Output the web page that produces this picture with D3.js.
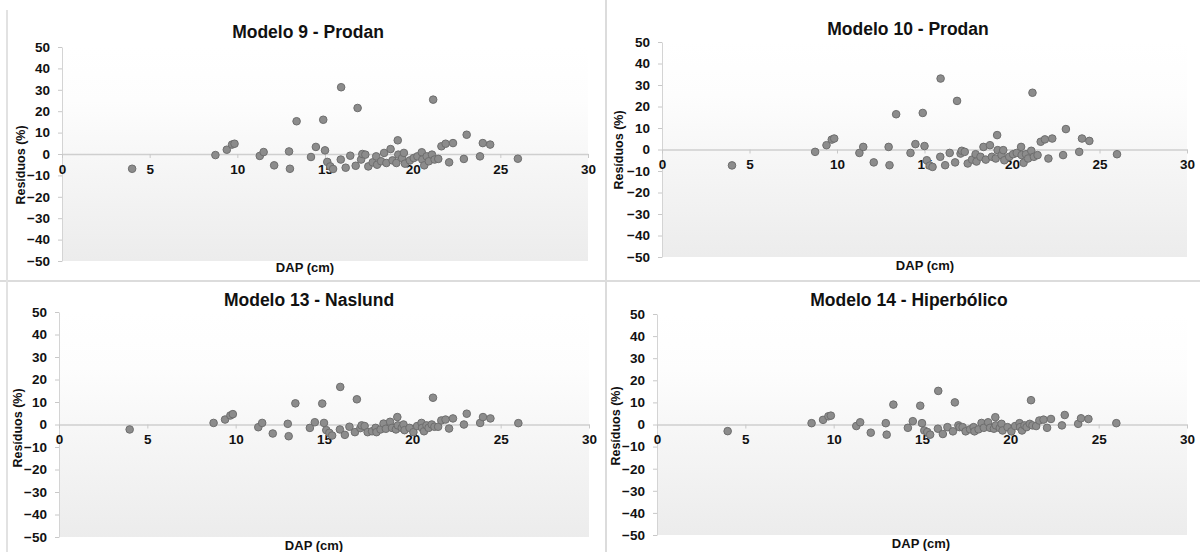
<!DOCTYPE html>
<html>
<head>
<meta charset="utf-8">
<script src="https://cdn.jsdelivr.net/npm/d3@7"></script>
<style>
  html, body { margin: 0; padding: 0; background: #ffffff; }
  svg { display: block; font-family: Arial, "Liberation Sans", sans-serif; }
</style>
</head>
<body>
<svg id="chart" width="1200" height="552"></svg>
<script>
// ---------- DATA ----------
const titles = ["Modelo 9 - Prodan", "Modelo 10 - Prodan", "Modelo 13 - Naslund", "Modelo 14 - Hiperbólico"];
const xTitle = "DAP (cm)";
const yTitle = "Resíduos (%)";
const xTicks = [0, 5, 10, 15, 20, 25, 30];
const yTicks = [50, 40, 30, 20, 10, 0, -10, -20, -30, -40, -50];

const dap = [4.0, 8.75, 9.4, 9.7, 9.84, 11.28, 11.5, 12.1, 12.95, 13.0,
  13.38, 14.2, 14.48, 14.9, 15.0, 15.13, 15.3, 15.46, 15.92, 15.9,
  16.18, 16.44, 16.75, 16.86, 17.06, 17.13, 17.3, 17.47, 17.72, 17.92,
  17.97, 18.2, 18.37, 18.5, 18.74, 18.85, 19.07, 19.15, 19.18, 19.4,
  19.5, 19.56, 19.84, 20.06, 20.27, 20.52, 20.55, 20.66, 20.8, 20.92,
  21.1, 21.17, 21.25, 21.46, 21.64, 21.88, 22.08, 22.3, 22.92, 23.08,
  23.84, 24.0, 24.42, 26.0];

const resModelo9 = [-6.9, -0.5, 2.0, 4.4, 4.8, -0.9, 0.9, -5.3, 1.2, -6.9,
  15.3, -1.4, 3.3, 16.0, 1.7, -3.7, -5.8, -7.0, 31.2, -2.6,
  -6.4, -0.8, -5.5, 21.5, -2.6, 0.0, -0.3, -5.8, -3.9, -1.1,
  -5.0, -3.4, 0.5, -4.2, 2.3, -3.0, -4.2, 6.4, -0.3, -1.9,
  0.5, -4.5, -3.0, -1.9, -1.1, 0.8, -2.6, -5.3, -1.1, -3.4,
  -0.3, 25.4, -2.6, -2.3, 3.6, 4.8, -3.9, 5.1, -2.3, 9.0,
  -1.1, 5.1, 4.4, -2.2];

const resModelo10 = [-7.4, -1.1, 2.0, 4.6, 5.1, -1.6, 1.2, -6.0, 1.2, -7.3,
  16.4, -1.6, 2.5, 17.0, 1.6, -5.0, -7.5, -8.1, 33.0, -3.4,
  -7.3, -1.6, -6.0, 22.6, -1.9, -0.6, -1.1, -6.5, -4.7, -2.2,
  -5.6, -3.4, 1.2, -4.7, 2.0, -3.4, -4.2, 6.7, -0.3, -2.6,
  -0.3, -5.0, -3.4, -2.2, -1.6, 1.2, -2.6, -6.2, -2.2, -4.2,
  -0.6, 26.4, -3.4, -2.6, 3.6, 4.7, -4.2, 5.1, -2.6, 9.5,
  -1.1, 5.1, 4.0, -2.2];

const resModelo13 = [-2.2, 0.7, 2.2, 4.0, 4.6, -1.2, 0.7, -4.0, 0.3, -5.2,
  9.4, -1.5, 1.0, 9.3, 0.7, -2.5, -3.7, -4.9, 16.7, -2.2,
  -4.6, -1.0, -3.4, 11.2, -1.6, -0.4, -0.7, -3.4, -3.0, -1.5,
  -3.4, -2.2, 0.4, -1.9, 1.2, -1.5, -2.2, 3.3, -0.4, -1.5,
  0.0, -2.5, -1.5, -3.4, -0.7, 0.7, -1.5, -3.0, -0.4, -1.5,
  0.0, 11.9, -1.0, -1.0, 1.8, 2.2, -1.8, 2.7, 0.0, 4.8,
  0.7, 3.3, 2.7, 0.6];

const resModelo14 = [-3.0, 0.6, 2.1, 3.7, 4.0, -0.7, 1.0, -3.7, 0.6, -4.6,
  9.0, -1.5, 1.5, 8.5, 0.6, -2.7, -3.4, -4.6, 15.2, -1.9,
  -4.3, -1.2, -3.1, 10.0, -0.4, -1.2, -1.2, -3.1, -2.2, -1.2,
  -3.1, -2.2, 0.7, -1.5, 1.0, -1.5, -1.9, 3.3, -0.4, -1.6,
  0.3, -2.7, -1.2, -3.1, -0.7, 0.6, -1.2, -2.7, -0.4, -1.2,
  0.3, 11.0, -0.4, -0.7, 1.8, 2.2, -1.5, 2.5, -0.4, 4.3,
  0.3, 2.8, 2.5, 0.6];

const residuals = [resModelo9, resModelo10, resModelo13, resModelo14];

// ---------- LAYOUT ----------
const layouts = [
  { x0: 62,  x1: 588,  yT: 47,  yB: 261, tx: 308, ty: 33,  ylx: 22,  yly: 165, xtx: 305, xty: 269 },
  { x0: 662, x1: 1187, yT: 42,  yB: 257, tx: 908, ty: 30,  ylx: 620, yly: 150, xtx: 925, xty: 267 },
  { x0: 59,  x1: 589,  yT: 312, yB: 537, tx: 309, ty: 301, ylx: 19,  yly: 428, xtx: 314, xty: 547 },
  { x0: 657, x1: 1187, yT: 314, yB: 535, tx: 909, ty: 301, ylx: 617, yly: 426, xtx: 921, xty: 545 }
];

const svg = d3.select("#chart");

const defs = svg.append("defs");
const grad = defs.append("linearGradient").attr("id", "plotbg")
  .attr("x1", 0).attr("y1", 0).attr("x2", 0).attr("y2", 1);
grad.append("stop").attr("offset", "0%").attr("stop-color", "#ffffff");
grad.append("stop").attr("offset", "25%").attr("stop-color", "#fdfdfd");
grad.append("stop").attr("offset", "100%").attr("stop-color", "#ececec");

// panel dividers
svg.append("line").attr("x1", 606).attr("x2", 606).attr("y1", 0).attr("y2", 552)
  .attr("stroke", "#dcdcdc").attr("stroke-width", 2);
svg.append("line").attr("x1", 0).attr("x2", 1200).attr("y1", 281).attr("y2", 281)
  .attr("stroke", "#dcdcdc").attr("stroke-width", 2);
svg.append("line").attr("x1", 7).attr("x2", 7).attr("y1", 10).attr("y2", 552)
  .attr("stroke", "#e2e2e2").attr("stroke-width", 2);

layouts.forEach((L, i) => {
  const x = d3.scaleLinear().domain([0, 30]).range([L.x0, L.x1]);
  const y = d3.scaleLinear().domain([-50, 50]).range([L.yB, L.yT]);
  const g = svg.append("g");

  g.append("rect")
    .attr("x", L.x0).attr("y", L.yT)
    .attr("width", L.x1 - L.x0).attr("height", L.yB - L.yT)
    .attr("fill", "url(#plotbg)");

  // y axis
  const yAxis = g.append("g").attr("transform", `translate(${L.x0},0)`)
    .call(d3.axisLeft(y).tickValues(yTicks).tickSize(4).tickPadding(8).tickSizeOuter(0));
  yAxis.select(".domain").attr("stroke", "#d4d4d4");
  yAxis.selectAll(".tick line").attr("stroke", "#c8c8c8");
  yAxis.selectAll("text").attr("font-size", 13.5).attr("font-weight", "bold").attr("fill", "#111");

  // x axis at zero line
  const xAxis = g.append("g").attr("transform", `translate(0,${y(0)})`)
    .call(d3.axisBottom(x).tickValues(xTicks).tickSize(4).tickPadding(6).tickSizeOuter(0));
  xAxis.select(".domain").attr("stroke", "#cfcfcf").attr("stroke-width", 1.5);
  xAxis.selectAll(".tick line").attr("stroke", "#c8c8c8");
  xAxis.selectAll("text").attr("font-size", 13.5).attr("font-weight", "bold").attr("fill", "#111");

  // points
  g.append("g").selectAll("circle")
    .data(dap.map((d, k) => [d, residuals[i][k]]))
    .join("circle")
    .attr("cx", d => x(d[0]))
    .attr("cy", d => y(d[1]))
    .attr("r", 3.8)
    .attr("fill", "#8c8c8c")
    .attr("stroke", "#6e6e6e")
    .attr("stroke-width", 1);

  // title
  g.append("text").attr("x", L.tx).attr("y", L.ty)
    .attr("text-anchor", "middle").attr("dominant-baseline", "middle")
    .attr("font-size", 17.5).attr("font-weight", "bold").attr("fill", "#111")
    .text(titles[i]);

  // y title
  g.append("text")
    .attr("transform", `translate(${L.ylx},${L.yly}) rotate(-90)`)
    .attr("text-anchor", "middle").attr("dominant-baseline", "middle")
    .attr("font-size", 12.5).attr("font-weight", "bold").attr("fill", "#111")
    .text(yTitle);

  // x title
  g.append("text").attr("x", L.xtx).attr("y", L.xty)
    .attr("text-anchor", "middle").attr("dominant-baseline", "middle")
    .attr("font-size", 13).attr("font-weight", "bold").attr("fill", "#111")
    .text(xTitle);
});
</script>
</body>
</html>
